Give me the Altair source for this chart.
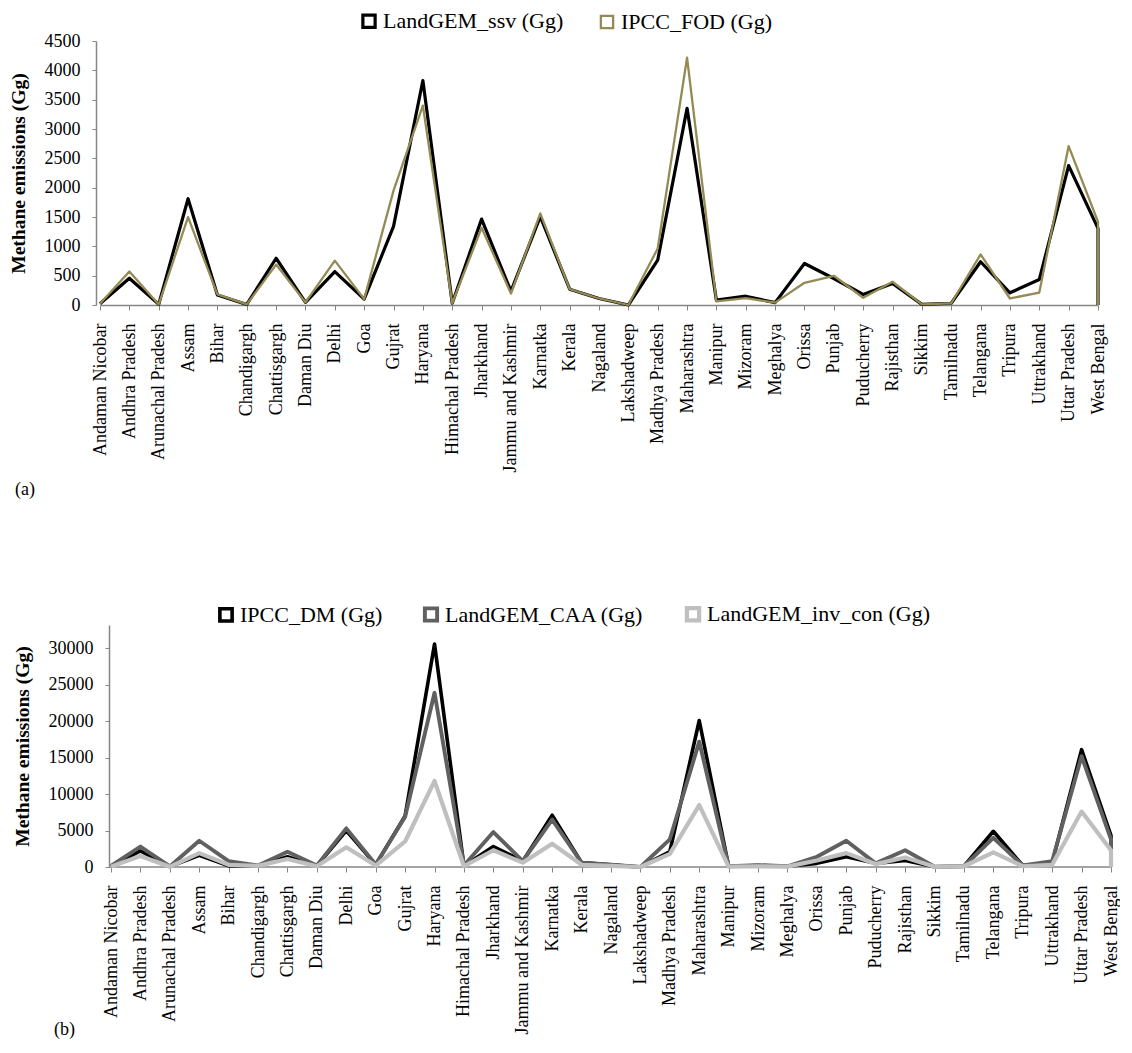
import altair as alt
import pandas as pd

states = ["Andaman Nicobar", "Andhra Pradesh", "Arunachal Pradesh", "Assam", "Bihar",
          "Chandigargh", "Chattisgargh", "Daman Diu", "Delhi", "Goa", "Gujrat", "Haryana",
          "Himachal Pradesh", "Jharkhand", "Jammu and Kashmir", "Karnatka", "Kerala",
          "Nagaland", "Lakshadweep", "Madhya Pradesh", "Maharashtra", "Manipur", "Mizoram",
          "Meghalya", "Orissa", "Punjab", "Puducherry", "Rajisthan", "Sikkim", "Tamilnadu",
          "Telangana", "Tripura", "Uttrakhand", "Uttar Pradesh", "West Bengal"]

# panel (a)
landgem_ssv = [20, 456, 10, 1811, 171, 10, 797, 45, 570, 100, 1340, 3826,
               30, 1464, 235, 1505, 270, 111, 0, 764, 3352, 82, 150,
               40, 708, 452, 179, 367, 10, 30, 737, 208, 435, 2375, 1305]
ipcc_fod = [20, 570, 10, 1498, 180, 10, 689, 45, 757, 100, 1950, 3398,
            30, 1317, 196, 1561, 270, 111, 0, 964, 4217, 60, 116,
            40, 379, 498, 123, 396, 10, 30, 862, 111, 213, 2709, 1419]

# panel (b)
ipcc_dm = [100, 2200, 50, 1600, 150, 150, 1400, 150, 5000, 300, 7000, 30600,
           150, 2800, 800, 7100, 600, 300, 0, 2100, 20100, 100, 200,
           100, 500, 1400, 500, 900, 30, 100, 4900, 200, 600, 16100, 4300]
landgem_caa = [150, 2800, 80, 3600, 800, 200, 2100, 200, 5300, 350, 6900, 23900,
               200, 4800, 800, 6500, 600, 300, 0, 3800, 17200, 100, 250,
               100, 1400, 3600, 500, 2300, 30, 100, 4000, 200, 800, 15200, 3800]
landgem_inv = [50, 1500, 30, 1900, 300, 150, 1100, 100, 2700, 200, 3500, 11800,
               100, 2300, 600, 3200, 300, 150, 0, 1800, 8500, 50, 100,
               50, 900, 1900, 400, 1300, 20, 100, 2000, 100, 300, 7600, 2300]

top_series = ["LandGEM_ssv (Gg)", "IPCC_FOD (Gg)"]
top_colors = ["#000000", "#948A54"]
top_widths = [3.2, 2.3]

bot_series = ["IPCC_DM (Gg)", "LandGEM_CAA (Gg)", "LandGEM_inv_con (Gg)"]
bot_colors = ["#000000", "#606060", "#BFBFBF"]
bot_widths = [3.6, 4.2, 2.2]


def long_frame(names, arrays):
    rows = []
    for name, vals in zip(names, arrays):
        for i, (s, v) in enumerate(zip(states, vals)):
            rows.append({"state": s, "value": v, "series": name, "idx": i})
        # the Excel series closes down to the axis at the last category
        rows.append({"state": states[-1], "value": 0, "series": name, "idx": len(states)})
    return pd.DataFrame(rows)


FONT = "Liberation Serif"
AXIS_GREY = "#868686"


def legend(lx, ly, col_pad):
    return alt.Legend(title=None, orient="none", legendX=lx, legendY=ly, offset=0,
                      direction="horizontal", symbolType="square", symbolSize=150,
                      symbolFillColor="white", labelFontSize=22, labelOffset=3,
                      columnPadding=col_pad, labelFont=FONT, labelLimit=0)


def panel(df, names, colors, widths, width, height, x0, ymax, yvals, legend_x, legend_y,
          col_pad, tag, tag_x, tag_y, y_offset):
    x_enc = alt.X("state:N", sort=states,
                  scale=alt.Scale(domain=states, range=[x0, width - 1], padding=0),
                  axis=alt.Axis(title=None, labelAngle=-90, labelAlign="right",
                                labelBaseline="middle", labelPadding=13, tickSize=5,
                                labelFontSize=18, domain=(x0 < 10)))
    y_enc = alt.Y("value:Q", scale=alt.Scale(domain=[0, ymax], nice=False),
                  axis=alt.Axis(title="Methane emissions (Gg)", values=yvals, grid=False,
                                tickSize=4, labelPadding=12, labelFontSize=18,
                                titleFontSize=19.5, titleFontWeight="bold",
                                titlePadding=16, format="d", offset=y_offset))
    color_enc = alt.Color("series:N", scale=alt.Scale(domain=names, range=colors),
                          legend=legend(legend_x, legend_y, col_pad))
    sw_enc = alt.StrokeWidth("series:N", scale=alt.Scale(domain=names, range=widths),
                             legend=legend(legend_x, legend_y, col_pad))
    layers = []
    if x0 >= 10:
        # x baseline starts at the (shifted) y axis
        layers.append(
            alt.Chart(pd.DataFrame({"v": [0]})).mark_rule(color=AXIS_GREY, strokeWidth=1.5)
            .encode(y=alt.Y("v:Q", scale=alt.Scale(domain=[0, ymax], nice=False)),
                    x=alt.value(x0 - 2), x2=alt.value(width))
        )
    for name in names:
        layers.append(
            alt.Chart(df).transform_filter(alt.datum.series == name)
            .mark_line(strokeJoin="round")
            .encode(x=x_enc, y=y_enc, color=color_enc, strokeWidth=sw_enc,
                    order=alt.Order("idx:Q"))
        )
    tag_chart = alt.Chart(pd.DataFrame({"t": [tag]})).mark_text(
        align="left", baseline="middle", fontSize=18, font=FONT, color="black"
    ).encode(text="t:N", x=alt.value(tag_x), y=alt.value(tag_y))
    layers.append(tag_chart)
    return alt.layer(*layers).properties(width=width, height=height)


df_top = long_frame(top_series, [landgem_ssv, ipcc_fod])
df_bot = long_frame(bot_series, [ipcc_dm, landgem_caa, landgem_inv])

top = panel(df_top, top_series, top_colors, top_widths, 1003, 264, 4, 4500,
            list(range(0, 4501, 500)), 262, -31, 32, "(a)", -81, 449, 0)
bot = panel(df_bot, bot_series, bot_colors, bot_widths, 1016, 242, 15, 33200,
            list(range(0, 30001, 5000)), 119, -22, 34, "(b)", -42, 405, -13)

chart = alt.vconcat(top, bot, spacing=104).resolve_scale(
    color="independent", strokeWidth="independent", x="independent", y="independent"
).resolve_legend(color="independent", strokeWidth="independent").properties(
    padding={"left": 0, "top": 2, "right": 0, "bottom": 0}
).configure(
    font=FONT
).configure_view(stroke=None).configure_axis(
    domainColor=AXIS_GREY, tickColor=AXIS_GREY, domainWidth=1.5, tickWidth=1,
    labelColor="black", titleColor="black", labelFont=FONT, titleFont=FONT
).configure_legend(labelColor="black", padding=0, offset=0)

chart.save("out.html", embed_options={"renderer": "svg", "actions": False})
